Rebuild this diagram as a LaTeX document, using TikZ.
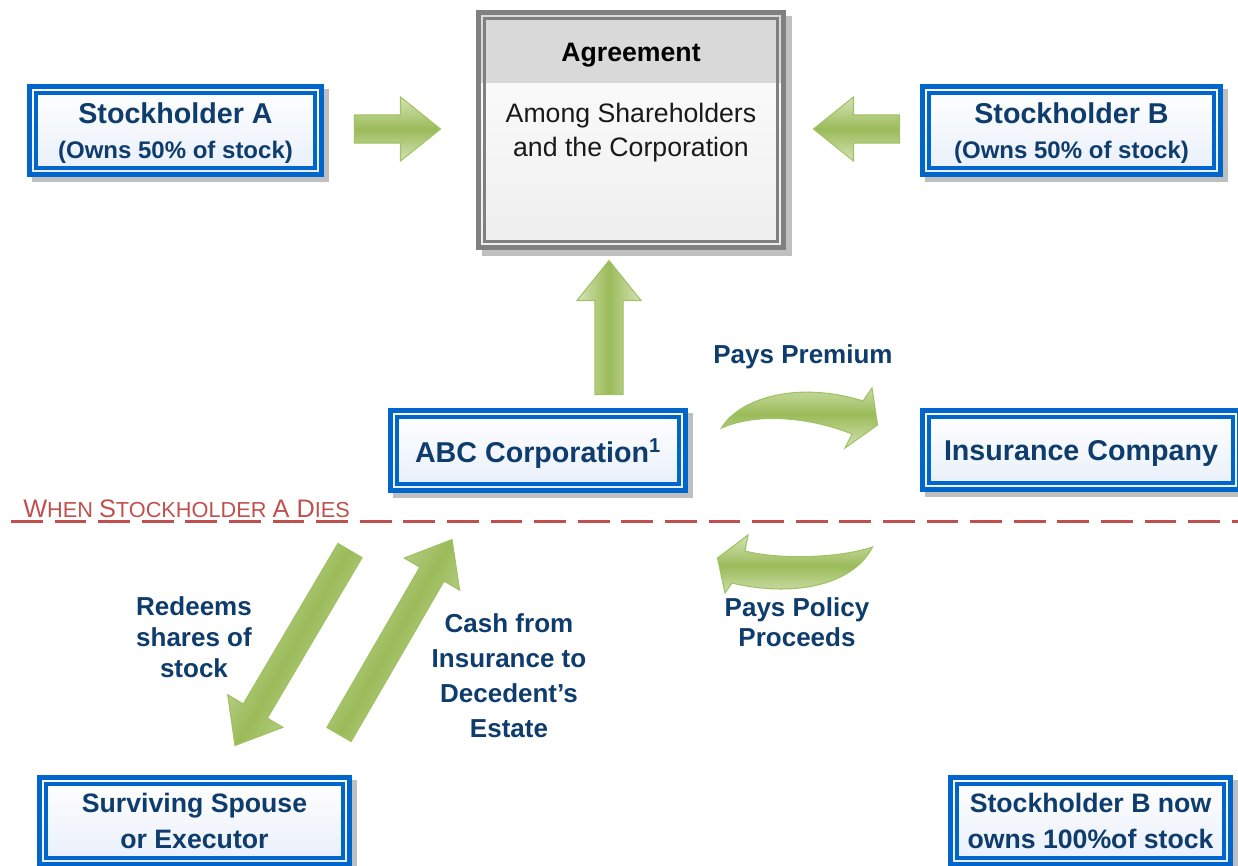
\documentclass[tikz,border=0pt]{standalone}
\usepackage{fontspec}
\setmainfont{Liberation Sans}
\usetikzlibrary{calc,positioning}
\definecolor{boxblue}{RGB}{0,102,204}
\definecolor{textblue}{RGB}{14,60,108}
\definecolor{boxtint}{RGB}{232,239,250}
\definecolor{shadowgray}{RGB}{191,191,191}
\definecolor{framegray}{RGB}{128,128,128}
\definecolor{headgray}{RGB}{217,217,217}
\definecolor{bodygray}{RGB}{238,238,238}
\definecolor{arrowgreen}{RGB}{155,187,89}
\definecolor{arrowlight}{RGB}{212,227,182}
\definecolor{arrowedge}{RGB}{160,193,100}
\definecolor{diesred}{RGB}{192,80,77}

\newcommand{\capsz}{\fontsize{19}{22}\selectfont}
\newcommand{\lowsz}{\fontsize{16.3}{22}\selectfont}
\newcommand{\shafthalf}{10.5pt}
\newcommand{\headhalf}{24pt}
\newcommand{\headlen}{30pt}
% straight block arrow: [shading angle]{tail}{tip}
\newcommand{\blockarrow}[3][0]{%
  \coordinate (hb) at ($(#3)!\headlen!(#2)$);
  \shade[greenarrow, shading angle=#1] ($(#2)!\shafthalf!90:(#3)$) -- ($(hb)!\shafthalf!90:(#3)$)
    -- ($(hb)!\headhalf!90:(#3)$) -- (#3) -- ($(hb)!\headhalf!-90:(#3)$)
    -- ($(hb)!\shafthalf!-90:(#3)$) -- ($(#2)!\shafthalf!-90:(#3)$) -- cycle;}

\begin{document}
\begin{tikzpicture}[x=0.75pt, y=-0.75pt,
    bluebox/.style={rectangle, draw=boxblue, line width=3.75pt, top color=white, bottom color=boxtint,
        preaction={fill=shadowgray, draw=shadowgray, transform canvas={xshift=3.75pt, yshift=-3.75pt}},
        path picture={\draw[boxblue, line width=3pt] ([shift={(6.5,6.5)}]path picture bounding box.north west) rectangle ([shift={(-6.5,-6.5)}]path picture bounding box.south east);},
        text=textblue, align=center, inner sep=0pt, text depth=0pt},
    agreebox/.style={rectangle, draw=framegray, line width=3.75pt, top color=white, bottom color=bodygray,
        preaction={fill=shadowgray, draw=shadowgray, transform canvas={xshift=4.5pt, yshift=-4.5pt}},
        path picture={\fill[headgray] (path picture bounding box.north west) rectangle ([shift={(0,70.5)}]path picture bounding box.north east);
            \draw[framegray, line width=2.6pt] ([shift={(6.25,6.25)}]path picture bounding box.north west) rectangle ([shift={(-6.25,-6.25)}]path picture bounding box.south east);},
        minimum width=228.75pt, minimum height=176.25pt},
    flowtext/.style={text=textblue, align=center, inner sep=0pt},
    greenarrow/.style={draw=arrowedge, line width=0.8pt, line join=miter, top color=arrowlight, bottom color=arrowlight, middle color=arrowgreen},
    diesline/.style={draw=diesred, line width=2.25pt, dash pattern=on 23.8pt off 8.9pt}
]
\useasboundingbox (0,0) rectangle (1238,865);

% boxes
\node[agreebox] (agree) at (631,130) {};
\node[font=\fontsize{20}{24}\selectfont\bfseries] (agreetitle) at (631,55) {Agreement};
\node[align=center, text=black!90, font=\fontsize{20}{25.5}\selectfont] (agreebody) at (631,133) {Among Shareholders\\and the Corporation};

\node[bluebox, minimum width=219pt, minimum height=66pt, font=\fontsize{21.5}{26.25}\selectfont\bfseries] (stockA) at (175.5,130.5)
    {Stockholder A\\{\fontsize{18}{26.25}\selectfont (Owns 50\% of stock)}};
\node[bluebox, minimum width=223.5pt, minimum height=66pt, font=\fontsize{21.5}{26.25}\selectfont\bfseries] (stockB) at (1071.5,130.5)
    {Stockholder B\\{\fontsize{18}{26.25}\selectfont (Owns 50\% of stock)}};
\node[bluebox, minimum width=221.25pt, minimum height=60pt, font=\fontsize{21.5}{26}\selectfont\bfseries] (abc) at (538,450.5)
    {ABC Corporation\textsuperscript{1}};
\node[bluebox, minimum width=237.75pt, minimum height=59.25pt, font=\fontsize{21.5}{26}\selectfont\bfseries] (insure) at (1081,450)
    {Insurance Company};
\node[bluebox, minimum width=232.5pt, minimum height=65.25pt, font=\fontsize{20}{27}\selectfont\bfseries] (spouse) at (194.5,821)
    {Surviving Spouse\\or Executor};
\node[bluebox, minimum width=210pt, minimum height=65.25pt, font=\fontsize{20}{27}\selectfont\bfseries] (stockBnow) at (1090.5,821)
    {Stockholder B now\\owns 100\%of stock};

% arrow ends
\coordinate (aTail) at ($(stockA.east)+(30.5,-1.5)$);
\coordinate (aTip) at ($(agree.west)+(-35.5,-1)$);
\coordinate (bTail) at ($(stockB.west)+(-20.5,-1.5)$);
\coordinate (bTip) at ($(agree.east)+(27.5,-1)$);
\coordinate (cTail) at ($(abc.north)+(71,-13.5)$);
\coordinate (cTip) at ($(agree.south)+(-22,10.5)$);
\coordinate (redeemTail) at ($(abc.south)+(-188,57.5)$);
\coordinate (redeemTip) at ($(spouse.north)+(40.5,-29.5)$);
\coordinate (cashTail) at ($(spouse.north)+(144.5,-40.5)$);
\coordinate (cashTip) at ($(abc.south)+(-86,46.5)$);
\coordinate (premTail) at ($(abc.east)+(33.5,-22.5)$);
\coordinate (premTip) at ($(insure.west)+(-42.5,-25)$);
\coordinate (policyTail) at ($(insure.west)+(-47.5,97)$);
\coordinate (policyTip) at ($(abc.east)+(29.5,107.5)$);

\blockarrow{aTail}{aTip}
\blockarrow{bTail}{bTip}
\blockarrow[90]{cTail}{cTip}
\blockarrow[60]{redeemTail}{redeemTip}
\blockarrow[60]{cashTail}{cashTip}

% curved arrows
\shade[greenarrow] (premTail) .. controls (740,397) and (800,381) .. (863,401) -- (872,388) -- (premTip)
    -- (845,448) -- (852,434) .. controls (815,419) and (760,411) .. (premTail) -- cycle;
\shade[greenarrow] (policyTail) .. controls (840,558) and (780,560) .. (745,551) -- (748,535) -- (policyTip)
    -- (725,593) -- (732,583) .. controls (790,597) and (852,587) .. (policyTail) -- cycle;

% labels
\node[flowtext, font=\fontsize{19.5}{23}\selectfont\bfseries] (premLabel) at (803,357) {Pays Premium};
\node[flowtext, font=\fontsize{19.5}{22.5}\selectfont\bfseries] (policyLabel) at (797,622) {Pays Policy\\Proceeds};
\node[flowtext, font=\fontsize{19.5}{23.25}\selectfont\bfseries] (redeemLabel) at (194,637) {Redeems\\shares of\\stock};
\node[flowtext, font=\fontsize{19.5}{26.25}\selectfont\bfseries] (cashLabel) at (509,675.5) {Cash from\\Insurance to\\Decedent’s\\Estate};

% dividing line
\coordinate (lineL) at (11,521);
\coordinate (lineR) at (1238,521);
\draw[diesline] (lineL) -- (lineR);
\node[anchor=base west, text=diesred, inner sep=0pt] (dies) at (23,517)
    {\capsz W\lowsz HEN \capsz S\lowsz TOCKHOLDER \capsz A \capsz D\lowsz IES};
\end{tikzpicture}
\end{document}
